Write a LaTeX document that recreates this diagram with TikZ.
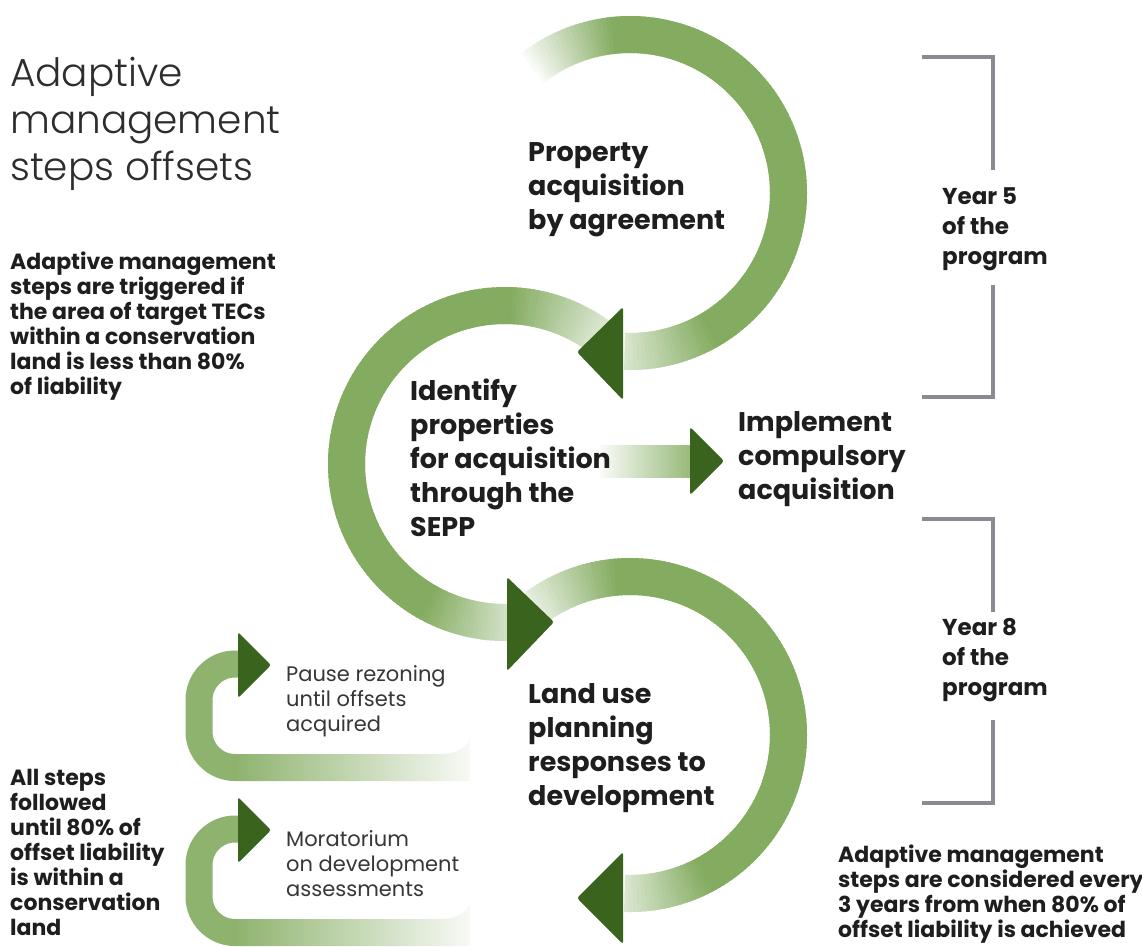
\documentclass[tikz,border=0pt]{standalone}
\usepackage{fontspec}
\setmainfont{Poppins}
\newfontfamily\lightfont{Poppins Light}
\usetikzlibrary{calc}
\definecolor{arcgreen}{RGB}{132,172,97}
\definecolor{darkgreen}{RGB}{58,100,30}
\definecolor{txt}{RGB}{30,30,30}
\definecolor{softgray}{RGB}{55,55,55}
\definecolor{titlegray}{RGB}{45,45,45}
\definecolor{brk}{RGB}{138,138,146}
% gradient arc: #1 cx, #2 cy, #3 start, #4 end, #5 fade-in span, #6 start intensity, #7 fade-out span, #8 end intensity
\newcommand{\garc}[8]{%
  \pgfmathtruncatemacro\garcN{abs(#4-#3)/1.5}%
  \pgfmathsetmacro\garcS{(#4-#3)/\garcN}%
  \foreach \gi in {1,...,\garcN}{%
    \pgfmathsetmacro\gaA{#3+(\gi-1)*\garcS}%
    \pgfmathsetmacro\gaB{#3+(\gi+0.6*(\gi<\garcN))*\garcS}%
    \pgfmathsetmacro\gdA{abs((\gi-0.5)*\garcS)}%
    \pgfmathsetmacro\gdB{abs(#4-#3)-\gdA}%
    \pgfmathsetmacro\gqA{min(100,#6+(100-#6)*(\gdA/#5))}%
    \pgfmathsetmacro\gqB{min(100,#8+(100-#8)*(\gdB/#7))}%
    \pgfmathsetmacro\gp{min(\gqA,\gqB)}%
    \draw[line width=37pt, draw=arcgreen!\gp!white] ($(#1,#2)+(\gaA:158.5)$) arc[start angle=\gaA, end angle=\gaB, radius=158.5];%
  }%
}
\begin{document}
\begin{tikzpicture}[x=1pt,y=1pt,
  head/.style={fill=darkgreen, rounded corners=2.5pt},
  basetext/.style={anchor=north west, inner sep=0pt, align=left, text=txt},
  titletext/.style={basetext, text=titlegray, font=\lightfont\fontsize{39}{47}\selectfont},
  steptext/.style={basetext, font=\bfseries\fontsize{27}{34}\selectfont},
  yeartext/.style={basetext, font=\bfseries\fontsize{23}{30}\selectfont},
  bodytext/.style={basetext, font=\bfseries\fontsize{22}{25}\selectfont},
  softtext/.style={basetext, text=softgray, font=\fontsize{21}{25}\selectfont},
  bracket/.style={draw=brk, line width=3.5pt},
  loopband/.style={draw=arcgreen!92!white, line width=27pt},
  pics/cloop/.style={code={
    \draw[loopband] (241,-664) -- (235,-664) arc[start angle=90, end angle=180, radius=36]
       -- (199,-731.5) arc[start angle=180, end angle=270, radius=36];
    \shade[left color=arcgreen!92!white, middle color=arcgreen!70!white, right color=arcgreen!6!white]
       (234.5,-754) -- (440,-754) .. controls (456,-754) and (464,-749) .. (470,-739)
       -- (470,-781) -- (234.5,-781) -- cycle;
    \fill[head] (238,-632) -- (238,-698) -- (271,-665) -- cycle;
  }}
]
\fill[white] (0,0) rectangle (1142,-946);
\useasboundingbox (0,0) rectangle (1142,-946);

% big arcs
\garc{630}{-193}{128}{-92}{32}{3}{32}{30}
\garc{505}{-464}{50}{271}{38}{20}{30}{35}
\garc{630}{-735}{130}{-92}{35}{10}{30}{28}

% arrowheads of big arcs
\fill[head] (623,-307) -- (623,-400) -- (577,-352) -- cycle;
\fill[head] (507,-577) -- (507,-671) -- (554,-622) -- cycle;
\fill[head] (623,-852) -- (623,-944) -- (577,-898) -- cycle;

% horizontal arrow
\shade[left color=arcgreen!4!white, right color=arcgreen!85!white] (600,-445) rectangle (691,-477);
\fill[head] (690,-427) -- (690,-495) -- (724,-461) -- cycle;

% small loops
\pic at (0,0) {cloop};
\pic at (0,-165) {cloop};

% brackets
\coordinate (b1a) at (922,-57);
\coordinate (b1b) at (993,-57);
\coordinate (b1c) at (993,-170);
\coordinate (b1d) at (993,-285);
\coordinate (b1e) at (993,-397);
\coordinate (b1f) at (922,-397);
\draw[bracket] (b1a) -- (b1b) -- (b1c);
\draw[bracket] (b1d) -- (b1e) -- (b1f);
\coordinate (b2a) at (922,-519);
\coordinate (b2b) at (993,-519);
\coordinate (b2c) at (993,-612);
\coordinate (b2d) at (993,-720);
\coordinate (b2e) at (993,-803);
\coordinate (b2f) at (922,-803);
\draw[bracket] (b2a) -- (b2b) -- (b2c);
\draw[bracket] (b2d) -- (b2e) -- (b2f);

% texts
\node[titletext] (title) at (10,-57) {Adaptive\\management\\steps offsets};
\node[bodytext] (trig) at (10,-252) {Adaptive management\\steps are triggered if\\the area of target TECs\\within a conservation\\land is less than 80\%\\of liability};
\node[steptext] (prop) at (528,-142) {Property\\acquisition\\by agreement};
\node[steptext] (ident) at (410,-379) {Identify\\properties\\for acquisition\\through the\\SEPP};
\node[steptext] (impl) at (738,-411) {Implement\\compulsory\\acquisition};
\node[steptext] (land) at (528,-683) {Land use\\planning\\responses to\\development};
\node[yeartext] (y5) at (942,-187) {Year 5\\of the\\program};
\node[yeartext] (y8) at (942,-618) {Year 8\\of the\\program};
\node[softtext] (pause) at (286,-665) {Pause rezoning\\until offsets\\acquired};
\node[softtext] (mora) at (286,-830) {Moratorium\\on development\\assessments};
\node[bodytext] (all) at (10,-769) {All steps\\followed\\until 80\% of\\offset liability\\is within a\\conservation\\land};
\node[bodytext] (consid) at (838,-845) {Adaptive management\\steps are considered every\\3 years from when 80\% of\\offset liability is achieved};
\end{tikzpicture}
\end{document}
